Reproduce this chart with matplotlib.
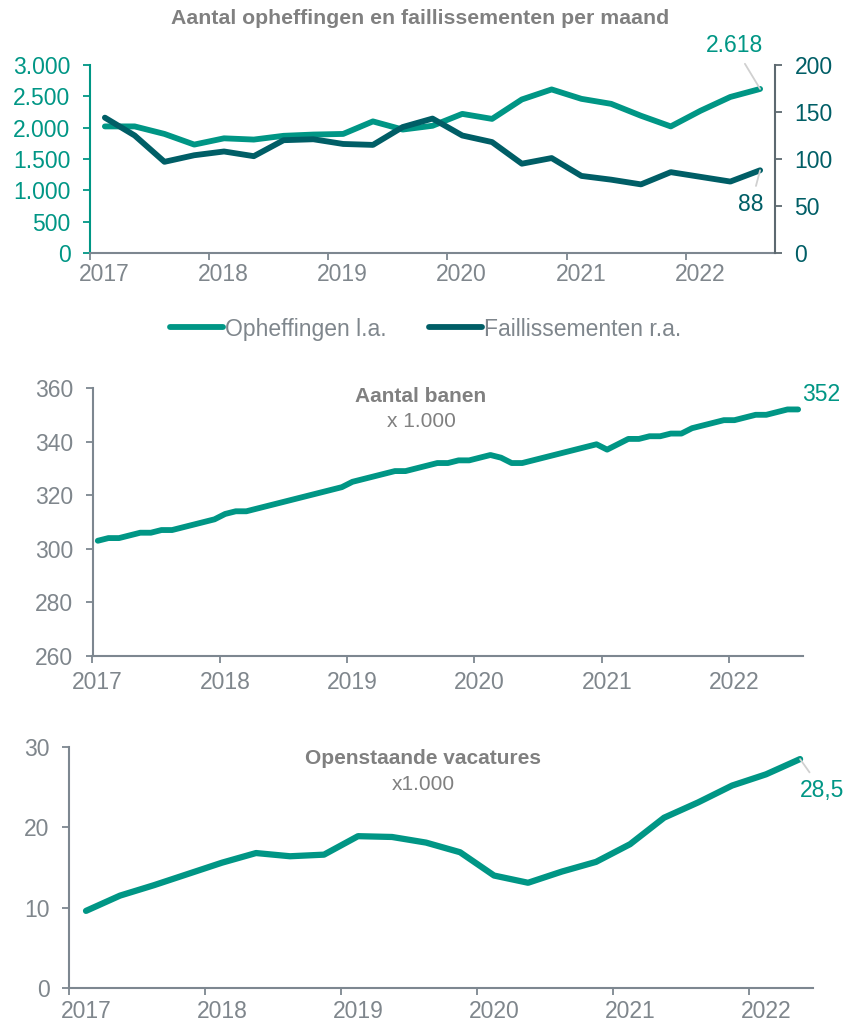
import numpy as np
import matplotlib.pyplot as plt
from matplotlib.lines import Line2D

plt.rcParams['font.family'] = ['Liberation Sans', 'DejaVu Sans']

# kleuren
teal = '#009685'
donker = '#005e66'
grijs = '#7f868c'
titel_grijs = '#808080'
as_grijs = '#7d8790'
leader = '#d0d0d0'

jaren = [2017, 2018, 2019, 2020, 2021, 2022]

# opheffingen (l.a.) en faillissementen (r.a.), per kwartaal 2017-K1 t/m 2022-K3
opheffingen = [2020, 2020, 1900, 1730, 1830, 1810, 1870, 1890, 1900, 2100, 1970, 2030,
               2220, 2140, 2450, 2610, 2460, 2380, 2190, 2020, 2270, 2490, 2618]
faillissementen = [144, 125, 97, 104, 108, 103, 120, 121, 116, 115, 134, 143,
                   125, 118, 95, 101, 82, 78, 73, 86, 81, 76, 88]

# aantal banen x 1.000, per maand jan 2017 t/m jul 2022
banen = [303, 304, 304, 305, 306, 306, 307, 307, 308, 309, 310, 311,
         313, 314, 314, 315, 316, 317, 318, 319, 320, 321, 322, 323,
         325, 326, 327, 328, 329, 329, 330, 331, 332, 332, 333, 333,
         334, 335, 334, 332, 332, 333, 334, 335, 336, 337, 338, 339,
         337, 339, 341, 341, 342, 342, 343, 343, 345, 346, 347, 348,
         348, 349, 350, 350, 351, 352, 352]

# openstaande vacatures x 1.000, per kwartaal 2017-K1 t/m 2022-K2
vacatures = [9.6, 11.5, 12.8, 14.2, 15.6, 16.8, 16.4, 16.6, 18.9, 18.8, 18.1,
             16.9, 14.0, 13.1, 14.5, 15.7, 17.9, 21.2, 23.1, 25.2, 26.6, 28.5]

W, H = 844, 1025
fs = 16.5  # tekstgrootte assen


def rect(links, boven, rechts, onder):
    return [links / W, 1 - onder / H, (rechts - links) / W, (onder - boven) / H]


def kwartalen(n):
    return 2017 + (np.arange(n) * 3 + 1.5) / 12


def maanden(n):
    return 2017 + (np.arange(n) + 0.5) / 12


def x_as(ax, eind, verschuiving, pad):
    ax.set_xlim(2017, eind)
    ax.set_xticks(jaren)
    ax.set_xticklabels([])
    ax.set_xticks([j + verschuiving for j in jaren], minor=True)
    ax.set_xticklabels([str(j) for j in jaren], minor=True)
    ax.tick_params(axis='x', which='major', direction='out', length=5, width=1.3, color=as_grijs)
    ax.tick_params(axis='x', which='minor', length=0, pad=pad, labelsize=fs, labelcolor=grijs)
    ax.spines['bottom'].set_color(as_grijs)
    ax.spines['bottom'].set_linewidth(1.5)
    ax.spines['top'].set_visible(False)
    ax.spines['right'].set_visible(False)


def duizend(v):
    return f'{v:,.0f}'.replace(',', '.')


fig = plt.figure(figsize=(W / 100, H / 100), dpi=100)

# --- opheffingen en faillissementen ---
ax1 = fig.add_axes(rect(90, 65, 775, 253))
ax2 = ax1.twinx()
xk = kwartalen(len(opheffingen))
ax1.plot(xk, opheffingen, color=teal, lw=4.2, solid_capstyle='round', solid_joinstyle='round', zorder=3)
ax2.plot(xk, faillissementen, color=donker, lw=4.2, solid_capstyle='round', solid_joinstyle='round', zorder=3)
x_as(ax1, 2022.75, 0.12, 7)
ax1.set_ylim(0, 3000)
ax1.set_yticks(range(0, 3001, 500))
ax1.set_yticklabels([duizend(v) for v in range(0, 3001, 500)])
ax1.tick_params(axis='y', length=5, width=1.3, color=teal, pad=9, labelsize=fs, labelcolor=teal)
ax1.spines['left'].set_color(teal)
ax1.spines['left'].set_linewidth(1.5)
ax2.set_ylim(0, 200)
ax2.set_yticks(range(0, 201, 50))
ax2.tick_params(axis='y', length=5, width=1.3, color='#5d6970', pad=9, labelsize=fs, labelcolor=donker)
for s in ['top', 'left', 'bottom']:
    ax2.spines[s].set_visible(False)
ax2.spines['right'].set_color('#5d6970')
ax2.spines['right'].set_linewidth(1.5)

ax1.annotate(duizend(opheffingen[-1]), (xk[-1], opheffingen[-1]), xytext=(-26, 43),
             textcoords='offset pixels', ha='center', va='center', fontsize=fs, color=teal,
             arrowprops=dict(arrowstyle='-', color=leader, lw=1.3, shrinkA=3, shrinkB=0))
ax2.annotate(str(faillissementen[-1]), (xk[-1], faillissementen[-1]), xytext=(-9, -34),
             textcoords='offset pixels', ha='center', va='center', fontsize=fs, color=donker,
             arrowprops=dict(arrowstyle='-', color=leader, lw=1.3, shrinkA=3, shrinkB=0))

fig.text(420 / W, 1 - 18 / H, 'Aantal opheffingen en faillissementen per maand',
         ha='center', va='center', fontsize=15.3, fontweight='bold', color=titel_grijs)

handles = [Line2D([], [], color=teal, lw=4.2, solid_capstyle='round'),
           Line2D([], [], color=donker, lw=4.2, solid_capstyle='round')]
fig.legend(handles, ['Opheffingen l.a.', 'Faillissementen r.a.'], loc='center',
           bbox_to_anchor=(426 / W, 1 - 329 / H), ncol=2, frameon=False, fontsize=fs,
           labelcolor=grijs, handlelength=2.3, handletextpad=0.1, columnspacing=1.85)

# --- aantal banen ---
ax3 = fig.add_axes(rect(92.5, 388, 803, 656))
xm = maanden(len(banen))
ax3.plot(xm, banen, color=teal, lw=4.2, solid_capstyle='round', solid_joinstyle='round')
x_as(ax3, 2022.58, 0.04, 11)
ax3.set_ylim(260, 360)
ax3.set_yticks(range(260, 361, 20))
ax3.tick_params(axis='y', length=5, width=1.3, color=as_grijs, pad=9, labelsize=fs, labelcolor=grijs)
ax3.spines['left'].set_color(as_grijs)
ax3.spines['left'].set_linewidth(1.5)
ax3.annotate(str(banen[-1]), (xm[-1], banen[-1]), xytext=(4, 15), textcoords='offset pixels',
             ha='left', va='center', fontsize=fs, color=teal)
fig.text(421 / W, 1 - 397 / H, 'Aantal banen', ha='center', va='center',
         fontsize=15, fontweight='bold', color=titel_grijs)
fig.text(421 / W, 1 - 422 / H, 'x 1.000', ha='center', va='center', fontsize=15, color=titel_grijs)

# --- openstaande vacatures ---
ax4 = fig.add_axes(rect(69, 747, 813, 988))
xv = kwartalen(len(vacatures))
ax4.plot(xv, vacatures, color=teal, lw=4.5, solid_capstyle='round', solid_joinstyle='round')
x_as(ax4, 2022.47, 0.125, 9)
ax4.set_ylim(0, 30)
ax4.set_yticks(range(0, 31, 10))
ax4.tick_params(axis='y', length=5, width=1.3, color=as_grijs, pad=9, labelsize=fs, labelcolor=grijs)
ax4.spines['left'].set_color(as_grijs)
ax4.spines['left'].set_linewidth(1.5)
ax4.annotate(f'{vacatures[-1]:.1f}'.replace('.', ','), (xv[-1], vacatures[-1]), xytext=(22, -31),
             textcoords='offset pixels', ha='center', va='center', fontsize=fs, color=teal,
             arrowprops=dict(arrowstyle='-', color=leader, lw=1.3, shrinkA=3, shrinkB=0))
fig.text(423 / W, 1 - 759 / H, 'Openstaande vacatures', ha='center', va='center',
         fontsize=15, fontweight='bold', color=titel_grijs)
fig.text(423 / W, 1 - 784 / H, 'x1.000', ha='center', va='center', fontsize=15, color=titel_grijs)

fig.savefig('out.png', dpi=100)
